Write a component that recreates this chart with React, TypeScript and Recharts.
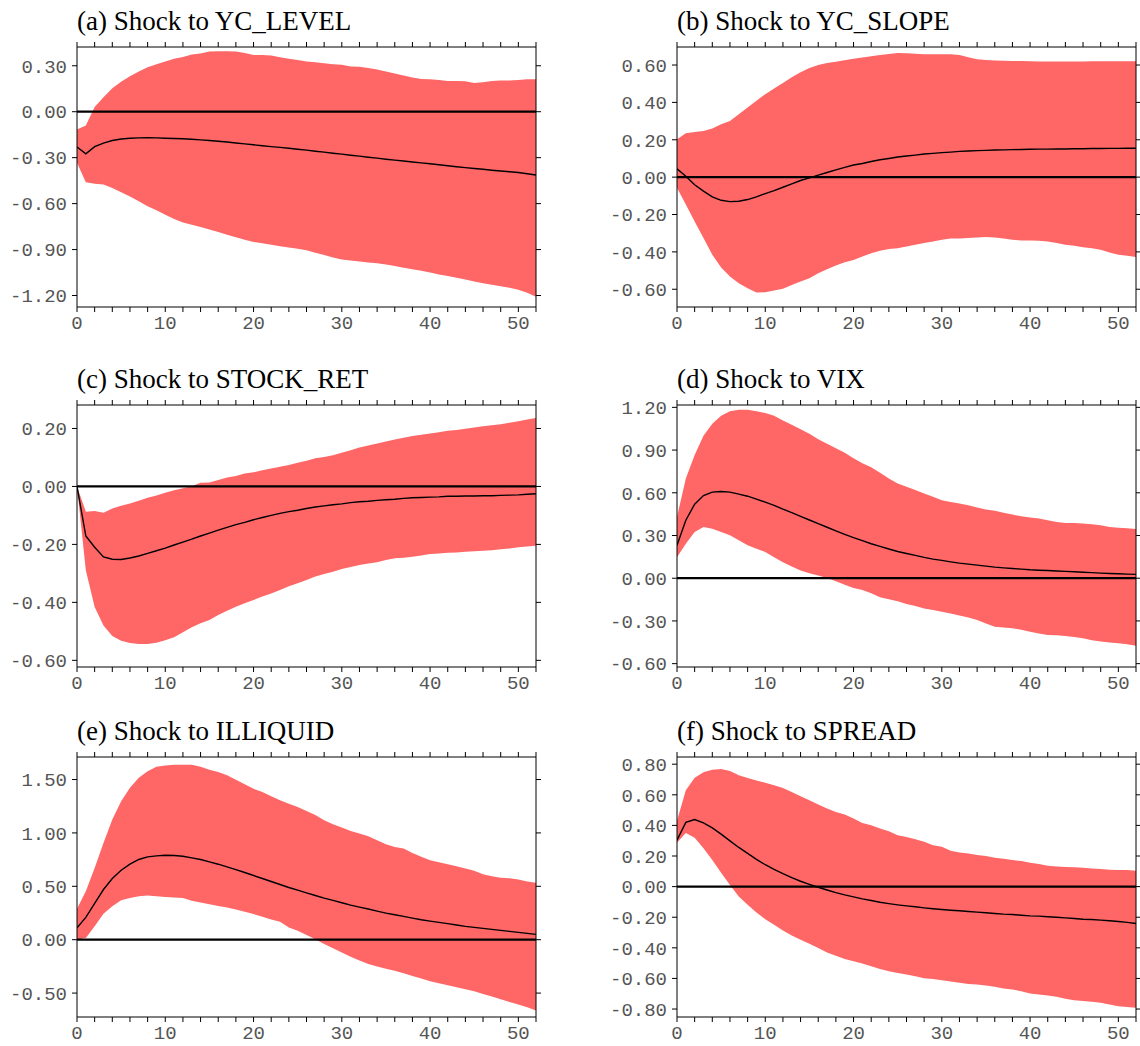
import { ComposedChart, Area, Line, XAxis, YAxis, ReferenceLine } from "recharts"

// horizon steps 0..52
const HORIZON = [
  0, 1, 2, 3, 4, 5, 6, 7, 8, 9, 10, 11, 12, 13, 14, 15, 16, 17, 18, 19, 20, 21, 22, 23, 24, 25, 26,
  27, 28, 29, 30, 31, 32, 33, 34, 35, 36, 37, 38, 39, 40, 41, 42, 43, 44, 45, 46, 47, 48, 49, 50, 51, 52,
]
const X_TICKS = [0, 2, 4, 6, 8, 10, 12, 14, 16, 18, 20, 22, 24, 26, 28, 30, 32, 34, 36, 38, 40, 42, 44, 46, 48, 50, 52]

// (a) YC_LEVEL
const LEVEL_MEAN = [
  -0.23, -0.275, -0.228, -0.205, -0.188, -0.178, -0.173, -0.171, -0.17, -0.171, -0.173, -0.175, -0.177, -0.18,
  -0.184, -0.188, -0.193, -0.198, -0.204, -0.21, -0.216, -0.222, -0.228, -0.233, -0.239, -0.245, -0.251, -0.258,
  -0.264, -0.271, -0.277, -0.284, -0.29, -0.297, -0.303, -0.31, -0.316, -0.322, -0.328, -0.334, -0.34, -0.346,
  -0.353, -0.359, -0.365, -0.371, -0.376, -0.382, -0.387, -0.392, -0.397, -0.405, -0.413,
]
const LEVEL_HI = [
  -0.116, -0.09, 0.03, 0.094, 0.153, 0.196, 0.231, 0.262, 0.29, 0.31, 0.328, 0.345, 0.358, 0.373, 0.38, 0.393,
  0.395, 0.395, 0.393, 0.384, 0.371, 0.371, 0.367, 0.356, 0.345, 0.338, 0.328, 0.323, 0.317, 0.31, 0.306, 0.295,
  0.293, 0.286, 0.275, 0.262, 0.249, 0.236, 0.223, 0.214, 0.212, 0.207, 0.2, 0.2, 0.199, 0.188, 0.192, 0.2, 0.203,
  0.203, 0.207, 0.212, 0.212,
]
const LEVEL_LO = [
  -0.334, -0.461, -0.47, -0.476, -0.498, -0.526, -0.553, -0.585, -0.618, -0.644, -0.672, -0.7, -0.723, -0.738,
  -0.752, -0.769, -0.786, -0.803, -0.82, -0.836, -0.85, -0.858, -0.868, -0.878, -0.886, -0.895, -0.905, -0.92,
  -0.936, -0.952, -0.965, -0.972, -0.978, -0.985, -0.99, -0.998, -1.008, -1.018, -1.028, -1.038, -1.05, -1.062,
  -1.072, -1.084, -1.096, -1.109, -1.12, -1.13, -1.14, -1.15, -1.162, -1.182, -1.208,
]

// (b) YC_SLOPE
const SLOPE_MEAN = [
  0.045, 0.005, -0.041, -0.075, -0.106, -0.124, -0.131, -0.129, -0.12, -0.106, -0.088, -0.072, -0.054, -0.036,
  -0.018, -0.004, 0.011, 0.025, 0.039, 0.052, 0.065, 0.073, 0.084, 0.093, 0.1, 0.108, 0.113, 0.118, 0.124, 0.127,
  0.131, 0.134, 0.138, 0.14, 0.142, 0.143, 0.145, 0.146, 0.147, 0.148, 0.149, 0.15, 0.15, 0.151, 0.151, 0.152,
  0.152, 0.153, 0.153, 0.154, 0.154, 0.155, 0.155,
]
const SLOPE_HI = [
  0.203, 0.235, 0.242, 0.247, 0.26, 0.283, 0.3, 0.337, 0.373, 0.409, 0.444, 0.475, 0.504, 0.534, 0.561, 0.584,
  0.6, 0.611, 0.618, 0.625, 0.633, 0.64, 0.647, 0.654, 0.659, 0.665, 0.663, 0.66, 0.658, 0.658, 0.658, 0.658,
  0.654, 0.642, 0.631, 0.627, 0.624, 0.623, 0.622, 0.621, 0.62, 0.619, 0.619, 0.619, 0.619, 0.619, 0.619, 0.62,
  0.62, 0.62, 0.62, 0.62, 0.62,
]
const SLOPE_LO = [
  -0.057, -0.147, -0.237, -0.326, -0.416, -0.484, -0.532, -0.568, -0.595, -0.618, -0.616, -0.607, -0.597, -0.577,
  -0.559, -0.541, -0.514, -0.493, -0.473, -0.455, -0.443, -0.425, -0.407, -0.394, -0.385, -0.38, -0.371, -0.362,
  -0.353, -0.344, -0.335, -0.328, -0.328, -0.326, -0.323, -0.321, -0.323, -0.328, -0.335, -0.339, -0.339, -0.34,
  -0.344, -0.353, -0.362, -0.367, -0.375, -0.38, -0.389, -0.403, -0.416, -0.421, -0.428,
]

// (c) STOCK_RET
const STOCK_MEAN = [
  0, -0.171, -0.21, -0.243, -0.251, -0.252, -0.247, -0.24, -0.231, -0.222, -0.213, -0.202, -0.192, -0.182, -0.171,
  -0.161, -0.151, -0.141, -0.132, -0.124, -0.115, -0.107, -0.1, -0.093, -0.087, -0.082, -0.076, -0.071, -0.067,
  -0.063, -0.06, -0.056, -0.053, -0.051, -0.048, -0.046, -0.044, -0.041, -0.039, -0.038, -0.037, -0.036, -0.034,
  -0.034, -0.033, -0.033, -0.032, -0.032, -0.031, -0.03, -0.029, -0.027, -0.025,
]
const STOCK_HI = [
  0, -0.087, -0.085, -0.091, -0.076, -0.067, -0.059, -0.049, -0.039, -0.031, -0.022, -0.013, -0.006, 0.001, 0.013,
  0.014, 0.022, 0.031, 0.036, 0.045, 0.049, 0.056, 0.062, 0.068, 0.074, 0.082, 0.089, 0.097, 0.102, 0.108, 0.116,
  0.125, 0.134, 0.141, 0.148, 0.155, 0.162, 0.168, 0.174, 0.178, 0.183, 0.187, 0.192, 0.195, 0.199, 0.203, 0.208,
  0.211, 0.215, 0.22, 0.225, 0.231, 0.236,
]
const STOCK_LO = [
  0, -0.289, -0.416, -0.48, -0.516, -0.532, -0.54, -0.544, -0.544, -0.539, -0.531, -0.52, -0.503, -0.486, -0.472,
  -0.461, -0.444, -0.429, -0.415, -0.403, -0.392, -0.38, -0.369, -0.357, -0.344, -0.334, -0.323, -0.311, -0.302,
  -0.294, -0.285, -0.278, -0.271, -0.266, -0.262, -0.254, -0.248, -0.246, -0.243, -0.238, -0.233, -0.231, -0.229,
  -0.228, -0.225, -0.224, -0.222, -0.22, -0.217, -0.214, -0.21, -0.207, -0.205,
]

// (d) VIX
const VIX_MEAN = [
  0.231, 0.407, 0.52, 0.581, 0.605, 0.609, 0.605, 0.591, 0.576, 0.555, 0.534, 0.511, 0.485, 0.461, 0.435, 0.409,
  0.384, 0.358, 0.332, 0.308, 0.285, 0.264, 0.242, 0.224, 0.205, 0.188, 0.174, 0.16, 0.146, 0.134, 0.125, 0.115,
  0.106, 0.099, 0.092, 0.085, 0.078, 0.073, 0.068, 0.064, 0.059, 0.056, 0.054, 0.051, 0.048, 0.045, 0.042, 0.039,
  0.036, 0.033, 0.031, 0.029, 0.027,
]
const VIX_HI = [
  0.43, 0.7, 0.866, 1.0, 1.085, 1.141, 1.172, 1.184, 1.184, 1.172, 1.16, 1.141, 1.108, 1.078, 1.047, 1.014, 0.976,
  0.944, 0.913, 0.882, 0.842, 0.807, 0.779, 0.741, 0.701, 0.666, 0.642, 0.619, 0.595, 0.572, 0.548, 0.536, 0.525,
  0.513, 0.496, 0.482, 0.473, 0.459, 0.447, 0.435, 0.426, 0.419, 0.407, 0.395, 0.388, 0.387, 0.384, 0.379, 0.372,
  0.36, 0.355, 0.351, 0.346,
]
const VIX_LO = [
  0.148, 0.242, 0.325, 0.36, 0.348, 0.325, 0.301, 0.266, 0.231, 0.207, 0.184, 0.148, 0.113, 0.082, 0.054, 0.035,
  0.019, 0.002, -0.021, -0.045, -0.068, -0.082, -0.106, -0.134, -0.148, -0.162, -0.181, -0.195, -0.212, -0.224,
  -0.235, -0.247, -0.261, -0.275, -0.294, -0.318, -0.341, -0.346, -0.351, -0.362, -0.376, -0.388, -0.398, -0.4,
  -0.405, -0.412, -0.421, -0.435, -0.445, -0.452, -0.456, -0.464, -0.475,
]

// (e) ILLIQUID
const ILLIQ_MEAN = [
  0.112, 0.209, 0.34, 0.47, 0.573, 0.651, 0.707, 0.751, 0.776, 0.785, 0.791, 0.788, 0.782, 0.766, 0.751, 0.729,
  0.707, 0.682, 0.657, 0.629, 0.601, 0.573, 0.545, 0.517, 0.489, 0.464, 0.439, 0.414, 0.389, 0.368, 0.346, 0.324,
  0.305, 0.287, 0.268, 0.249, 0.234, 0.218, 0.202, 0.187, 0.174, 0.162, 0.15, 0.137, 0.125, 0.115, 0.106, 0.097,
  0.087, 0.078, 0.069, 0.059, 0.05,
]
const ILLIQ_HI = [
  0.29, 0.453, 0.672, 0.906, 1.125, 1.297, 1.422, 1.516, 1.578, 1.619, 1.631, 1.638, 1.638, 1.638, 1.619, 1.592,
  1.57, 1.539, 1.498, 1.455, 1.414, 1.383, 1.343, 1.305, 1.274, 1.243, 1.206, 1.168, 1.118, 1.081, 1.05, 1.019,
  0.994, 0.969, 0.931, 0.894, 0.869, 0.854, 0.813, 0.776, 0.745, 0.726, 0.707, 0.688, 0.667, 0.645, 0.614, 0.595,
  0.579, 0.576, 0.564, 0.545, 0.533,
]
const ILLIQ_LO = [
  0.0, 0.016, 0.125, 0.244, 0.313, 0.369, 0.39, 0.406, 0.413, 0.406, 0.4, 0.394, 0.39, 0.364, 0.349, 0.333, 0.315,
  0.302, 0.283, 0.262, 0.24, 0.215, 0.19, 0.168, 0.115, 0.084, 0.044, 0.003, -0.04, -0.081, -0.121, -0.159, -0.196,
  -0.227, -0.252, -0.271, -0.29, -0.315, -0.34, -0.364, -0.389, -0.408, -0.427, -0.445, -0.464, -0.483, -0.508,
  -0.533, -0.558, -0.583, -0.607, -0.632, -0.664,
]

// (f) SPREAD
const SPREAD_MEAN = [
  0.304, 0.42, 0.438, 0.416, 0.384, 0.343, 0.299, 0.256, 0.217, 0.178, 0.143, 0.113, 0.085, 0.059, 0.035, 0.015,
  -0.004, -0.022, -0.039, -0.054, -0.067, -0.08, -0.091, -0.102, -0.111, -0.119, -0.126, -0.132, -0.139, -0.145,
  -0.15, -0.154, -0.158, -0.163, -0.167, -0.171, -0.176, -0.18, -0.182, -0.187, -0.191, -0.193, -0.197, -0.2,
  -0.204, -0.208, -0.213, -0.215, -0.219, -0.223, -0.228, -0.234, -0.241,
]
const SPREAD_HI = [
  0.43, 0.629, 0.711, 0.748, 0.764, 0.768, 0.755, 0.727, 0.709, 0.694, 0.679, 0.662, 0.644, 0.618, 0.59, 0.564,
  0.536, 0.51, 0.488, 0.471, 0.445, 0.416, 0.401, 0.38, 0.362, 0.336, 0.325, 0.31, 0.293, 0.271, 0.26, 0.234, 0.223,
  0.217, 0.206, 0.2, 0.189, 0.182, 0.174, 0.167, 0.156, 0.148, 0.137, 0.132, 0.128, 0.126, 0.124, 0.119, 0.115,
  0.111, 0.108, 0.108, 0.104,
]
const SPREAD_LO = [
  0.286, 0.351, 0.319, 0.25, 0.174, 0.091, 0.011, -0.065, -0.119, -0.169, -0.213, -0.249, -0.286, -0.319, -0.347,
  -0.373, -0.401, -0.43, -0.451, -0.473, -0.488, -0.503, -0.521, -0.538, -0.553, -0.564, -0.575, -0.586, -0.599,
  -0.603, -0.612, -0.62, -0.629, -0.636, -0.64, -0.646, -0.655, -0.666, -0.672, -0.683, -0.698, -0.705, -0.711,
  -0.72, -0.733, -0.742, -0.748, -0.753, -0.759, -0.77, -0.781, -0.787, -0.792,
]

const BAND = "#ff6666"
const TICK_STYLE = { fontFamily: "'Liberation Mono', 'Courier New', monospace", fontSize: 19, fill: "#555" }

interface PanelProps {
  title: string
  mean: number[]
  lo: number[]
  hi: number[]
  yDomain: [number, number]
  yTicks: number[]
  left: number
  top: number
  plotHeight: number
  width: number
}

function Panel({ title, mean, lo, hi, yDomain, yTicks, left, top, plotHeight, width }: PanelProps) {
  const rows = HORIZON.map((t, i) => ({ t, mean: mean[i], band: [lo[i], hi[i]] }))
  const fmtY = (v: number) => (Math.abs(v) < 1e-9 ? "0.00" : v.toFixed(2))
  const fmtX = (v: number) => (v % 10 === 0 ? String(v) : "")
  const blank = () => ""

  return (
    <>
      <div
        style={{
          position: "absolute",
          left: left + 77,
          top: top - 39,
          fontFamily: "'Liberation Serif', 'Times New Roman', serif",
          fontSize: 27,
          lineHeight: "27px",
          whiteSpace: "nowrap",
          color: "#000",
        }}
      >
        {title}
      </div>
      <div style={{ position: "absolute", left, top: top - 10 }}>
        <ComposedChart
          width={width}
          height={plotHeight + 40}
          data={rows}
          margin={{ top: 9, right: width - 77 - 459 - 1, bottom: 0, left: 0 }}
        >
          <XAxis
            dataKey="t"
            type="number"
            domain={[0, 52]}
            ticks={X_TICKS}
            interval={0}
            allowDataOverflow
            height={30}
            tickSize={5}
            tickMargin={4}
            tickFormatter={fmtX}
            stroke="#000"
            tick={TICK_STYLE}
          />
          <XAxis
            xAxisId="top"
            orientation="top"
            dataKey="t"
            type="number"
            domain={[0, 52]}
            ticks={X_TICKS}
            interval={0}
            allowDataOverflow
            height={1}
            tickSize={5}
            tickFormatter={blank}
            stroke="#000"
          />
          <YAxis
            type="number"
            domain={yDomain}
            ticks={yTicks}
            interval={0}
            allowDataOverflow
            width={77}
            tickSize={5}
            tickMargin={5}
            tickFormatter={fmtY}
            stroke="#000"
            tick={TICK_STYLE}
          />
          <YAxis
            yAxisId="right"
            orientation="right"
            type="number"
            domain={yDomain}
            ticks={yTicks}
            interval={0}
            allowDataOverflow
            width={1}
            tickSize={5}
            tickFormatter={blank}
            stroke="#000"
          />
          <Area
            dataKey="band"
            type="linear"
            fill={BAND}
            fillOpacity={1}
            stroke="none"
            isAnimationActive={false}
          />
          <ReferenceLine y={0} stroke="#000" strokeWidth={2.2} />
          <Line
            dataKey="mean"
            type="linear"
            stroke="#000"
            strokeWidth={1.4}
            dot={false}
            isAnimationActive={false}
          />
          {/* invisible twin so the mirrored top/right axes get drawn */}
          <Line
            xAxisId="top"
            yAxisId="right"
            dataKey="mean"
            stroke="none"
            strokeOpacity={0}
            dot={false}
            activeDot={false}
            legendType="none"
            isAnimationActive={false}
          />
        </ComposedChart>
      </div>
    </>
  )
}

export default function App() {
  return (
    <div style={{ position: "absolute", left: 0, top: 0, width: 1140, height: 1046, background: "#fff" }}>
      <Panel
        title="(a) Shock to YC_LEVEL"
        mean={LEVEL_MEAN}
        lo={LEVEL_LO}
        hi={LEVEL_HI}
        yDomain={[-1.275, 0.4225]}
        yTicks={[-1.2, -0.9, -0.6, -0.3, 0, 0.3]}
        left={0}
        top={47}
        plotHeight={260}
        width={542}
      />
      <Panel
        title="(b) Shock to YC_SLOPE"
        mean={SLOPE_MEAN}
        lo={SLOPE_LO}
        hi={SLOPE_HI}
        yDomain={[-0.695, 0.6965]}
        yTicks={[-0.6, -0.4, -0.2, 0, 0.2, 0.4, 0.6]}
        left={600}
        top={47}
        plotHeight={260}
        width={540}
      />
      <Panel
        title="(c) Shock to STOCK_RET"
        mean={STOCK_MEAN}
        lo={STOCK_LO}
        hi={STOCK_HI}
        yDomain={[-0.623, 0.281]}
        yTicks={[-0.6, -0.4, -0.2, 0, 0.2]}
        left={0}
        top={405}
        plotHeight={262}
        width={542}
      />
      <Panel
        title="(d) Shock to VIX"
        mean={VIX_MEAN}
        lo={VIX_LO}
        hi={VIX_HI}
        yDomain={[-0.6235, 1.2165]}
        yTicks={[-0.6, -0.3, 0, 0.3, 0.6, 0.9, 1.2]}
        left={600}
        top={405}
        plotHeight={262}
        width={540}
      />
      <Panel
        title="(e) Shock to ILLIQUID"
        mean={ILLIQ_MEAN}
        lo={ILLIQ_LO}
        hi={ILLIQ_HI}
        yDomain={[-0.724, 1.711]}
        yTicks={[-0.5, 0, 0.5, 1, 1.5]}
        left={0}
        top={757}
        plotHeight={260}
        width={542}
      />
      <Panel
        title="(f) Shock to SPREAD"
        mean={SPREAD_MEAN}
        lo={SPREAD_LO}
        hi={SPREAD_HI}
        yDomain={[-0.852, 0.847]}
        yTicks={[-0.8, -0.6, -0.4, -0.2, 0, 0.2, 0.4, 0.6, 0.8]}
        left={600}
        top={757}
        plotHeight={260}
        width={540}
      />
    </div>
  )
}
